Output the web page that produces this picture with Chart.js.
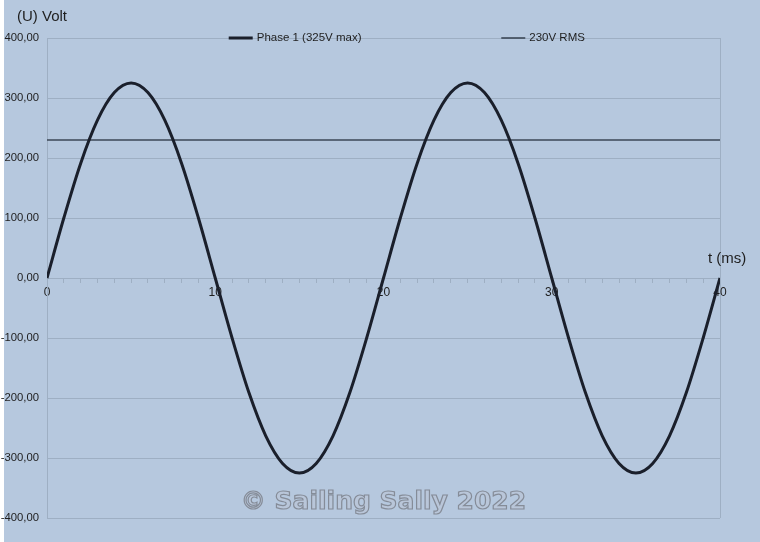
<!DOCTYPE html>
<html>
<head>
<meta charset="utf-8">
<script src="https://cdn.jsdelivr.net/npm/chart.js@4/dist/chart.umd.min.js"></script>
<style>
  html, body { margin: 0; padding: 0; background: #ffffff; }
  #wrap { width: 760px; height: 542px; position: relative; }
</style>
</head>
<body>
<div id="wrap"><canvas id="voltChart"></canvas></div>
<script>
const timeMs = [0, 1, 2, 3, 4, 5, 6, 7, 8, 9, 10, 11, 12, 13, 14, 15, 16, 17, 18, 19, 20,
  21, 22, 23, 24, 25, 26, 27, 28, 29, 30, 31, 32, 33, 34, 35, 36, 37, 38, 39, 40];
const phaseVolt = [0, 100, 191, 263, 309, 325, 309, 263, 191, 100, 0,
  -100, -191, -263, -309, -325, -309, -263, -191, -100, 0,
  100, 191, 263, 309, 325, 309, 263, 191, 100, 0,
  -100, -191, -263, -309, -325, -309, -263, -191, -100, 0];
const rmsTime = [0, 40];
const rmsVolt = [230, 230];
const yTicks = [-400, -300, -200, -100, 0, 100, 200, 300, 400];
const xLabels = [0, 10, 20, 30, 40];

const bgColor = '#b6c8de';
const gridColor = '#9eafc3';
const textColor = '#1e1e1e';
const font = 'Liberation Sans, Arial, sans-serif';

// Hintergrund, Achsentitel, Legende und Wasserzeichen
const decorPlugin = {
  id: 'decor',
  beforeDraw(chart) {
    const ctx = chart.ctx;
    ctx.save();
    ctx.fillStyle = bgColor;
    ctx.fillRect(4, 0, chart.width - 4, chart.height);
    ctx.restore();
  },
  afterDraw(chart) {
    const ctx = chart.ctx;
    const area = chart.chartArea;
    ctx.save();
    ctx.fillStyle = textColor;
    ctx.font = '15px ' + font;
    ctx.textBaseline = 'middle';
    ctx.textAlign = 'left';
    ctx.fillText('(U) Volt', 17, 17);
    ctx.fillText('t (ms)', area.right - 12, chart.scales.y.getPixelForValue(0) - 19);

    // Legende
    const spots = [0.27, 0.675];
    chart.data.datasets.forEach((ds, i) => {
      const x = area.left + area.width * spots[i];
      const y = area.top;
      ctx.strokeStyle = ds.borderColor;
      ctx.lineWidth = ds.borderWidth;
      ctx.beginPath();
      ctx.moveTo(x, y);
      ctx.lineTo(x + 24, y);
      ctx.stroke();
      ctx.fillStyle = textColor;
      ctx.font = '11.5px ' + font;
      ctx.fillText(ds.label, x + 28, y);
    });

    // Wasserzeichen
    ctx.font = 'bold 25px DejaVu Sans, sans-serif';
    ctx.textAlign = 'center';
    ctx.textBaseline = 'alphabetic';
    ctx.fillStyle = '#b9c6d9';
    ctx.strokeStyle = '#858c98';
    ctx.lineWidth = 1.2;
    const wx = (area.left + area.right) / 2;
    ctx.fillText('\u00A9 Sailing Sally 2022', wx, 509);
    ctx.strokeText('\u00A9 Sailing Sally 2022', wx, 509);
    ctx.restore();
  }
};

const ctx = document.getElementById('voltChart').getContext('2d');
const voltChart = new Chart(ctx, {
  type: 'line',
  data: {
    datasets: [{
      label: 'Phase 1 (325V max)',
      data: timeMs.map((t, i) => ({ x: t, y: phaseVolt[i] })),
      borderColor: '#1a1f2b',
      borderWidth: 3,
      pointRadius: 0,
      cubicInterpolationMode: 'monotone',
      fill: false
    },
    {
      label: '230V RMS',
      data: rmsTime.map((t, i) => ({ x: t, y: rmsVolt[i] })),
      borderColor: '#3b4756',
      borderWidth: 1.6,
      pointRadius: 0,
      tension: 0,
      fill: false
    }]
  },
  options: {
    responsive: true,
    maintainAspectRatio: false,
    animation: false,
    layout: { padding: { top: 38, right: 40, bottom: 24, left: 0 } },
    plugins: {
      legend: { display: false },
      tooltip: { enabled: false }
    },
    scales: {
      x: {
        type: 'linear',
        position: { y: 0 },
        min: 0,
        max: 40,
        grid: {
          color: c => (c.tick && (c.tick.value === 0 || c.tick.value === 40)) ? gridColor : 'rgba(0,0,0,0)',
          tickColor: gridColor,
          tickLength: 4,
          drawOnChartArea: true
        },
        border: { display: true, color: gridColor },
        ticks: {
          stepSize: 1,
          autoSkip: false,
          maxRotation: 0,
          padding: 3,
          color: textColor,
          font: { family: font, size: 12 },
          callback: v => xLabels.includes(v) ? String(v) : ''
        }
      },
      y: {
        min: yTicks[0],
        max: yTicks[yTicks.length - 1],
        afterFit: scale => { scale.width = 47; },
        grid: { color: gridColor, drawTicks: false },
        border: { color: gridColor },
        ticks: {
          stepSize: 100,
          padding: 8,
          color: textColor,
          font: { family: font, size: 11.3 },
          callback: v => v.toFixed(2).replace('.', ',')
        }
      }
    }
  },
  plugins: [decorPlugin]
});
</script>
</body>
</html>
